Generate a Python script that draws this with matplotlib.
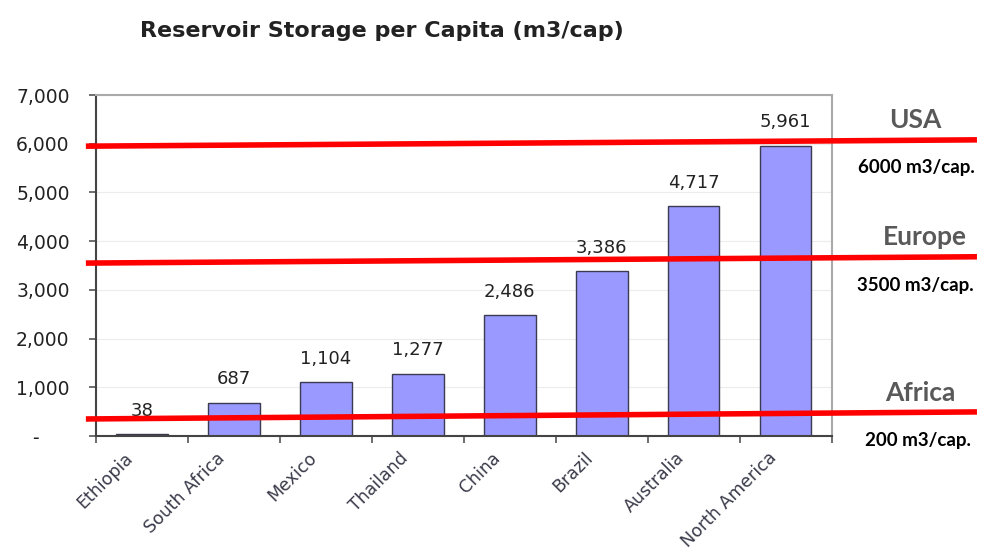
import matplotlib
matplotlib.use("Agg")
import matplotlib.pyplot as plt
from matplotlib.ticker import FuncFormatter, FixedLocator
from matplotlib.transforms import ScaledTranslation

# DATA

countries = ["Ethiopia", "South Africa", "Mexico", "Thailand", "China",
             "Brazil", "Australia", "North America"]
storage = [38, 687, 1104, 1277, 2486, 3386, 4717, 5961]

# hand-drawn red reference lines (left / right end values, m3/cap)
ref_names = ["USA", "Europe", "Africa"]
ref_labels = ["6000 m3/cap.", "3500 m3/cap.", "200 m3/cap."]
ref_left = [5950, 3550, 350]
ref_right = [6080, 3680, 495]

# PLOT

plt.rcParams["font.family"] = ["DejaVu Sans"]

fig = plt.figure(figsize=(10.02, 5.57), dpi=100)
ax = fig.add_axes([0.0958, 0.2172, 0.7342, 0.6122])

x = list(range(len(countries)))
ax.bar(x, storage, width=0.56, color="#9999ff", edgecolor="#3a3a50",
       linewidth=1.0, zorder=2)

for xi, v in zip(x, storage):
    ax.text(xi, v + 480, f"{v:,}", ha="center", va="center",
            fontsize=13, color="#222222", zorder=4)

ax.set_xlim(-0.5, len(countries) - 0.5)
ax.set_ylim(0, 7000)
ax.set_yticks(range(0, 7001, 1000))
ax.yaxis.set_major_formatter(
    FuncFormatter(lambda v, p: "-     " if v == 0 else f"{int(v):,}"))
ax.tick_params(axis="y", labelsize=13.5, labelcolor="#222222", color="#555555",
               length=5, width=1.2, pad=14)
ax.grid(axis="y", color="#ececec", linewidth=0.8, zorder=0)

ax.set_xticks(x)
ax.set_xticklabels(countries, rotation=45, ha="right", va="center",
                   rotation_mode="anchor", fontsize=12.5, color="#3a3a4a")
ax.tick_params(axis="x", which="major", length=0, pad=14)
shift = ScaledTranslation(-0.12, 0, fig.dpi_scale_trans)
for lbl in ax.get_xticklabels():
    lbl.set_transform(lbl.get_transform() + shift)
ax.xaxis.set_minor_locator(FixedLocator([i - 0.5 for i in range(len(countries) + 1)]))
ax.tick_params(axis="x", which="minor", length=5, width=1.2, color="#555555")

for side in ["top", "right"]:
    ax.spines[side].set_color("#aaaaaa")
    ax.spines[side].set_linewidth(1.5)
for side in ["left", "bottom"]:
    ax.spines[side].set_color("#444444")
    ax.spines[side].set_linewidth(1.5)

fig.text(0.381, 0.945, "Reservoir Storage per Capita (m3/cap)", ha="center",
         va="center", fontsize=16, fontweight="bold", color="#222222")

# red overlay lines, extending past the plot frame
x0, x1 = -0.61, 9.08
for yl, yr in zip(ref_left, ref_right):
    ax.plot([x0, x1], [yl, yr], color="#ff0000", linewidth=4, clip_on=False,
            zorder=5, solid_capstyle="butt")

name_pos = [(0.913, 0.784), (0.923, 0.574), (0.918, 0.294)]
label_pos = [(0.915, 0.700), (0.913, 0.488), (0.916, 0.210)]
for name, lab, (nx, ny), (lx, ly) in zip(ref_names, ref_labels, name_pos, label_pos):
    fig.text(nx, ny, name, ha="center", va="center", fontsize=19,
             fontweight="bold", color="#595959", family=["Lato", "DejaVu Sans"])
    fig.text(lx, ly, lab, ha="center", va="center", fontsize=13.5,
             fontweight="bold", color="#000000", family=["Lato", "DejaVu Sans"])

fig.savefig("out.png", dpi=100)
